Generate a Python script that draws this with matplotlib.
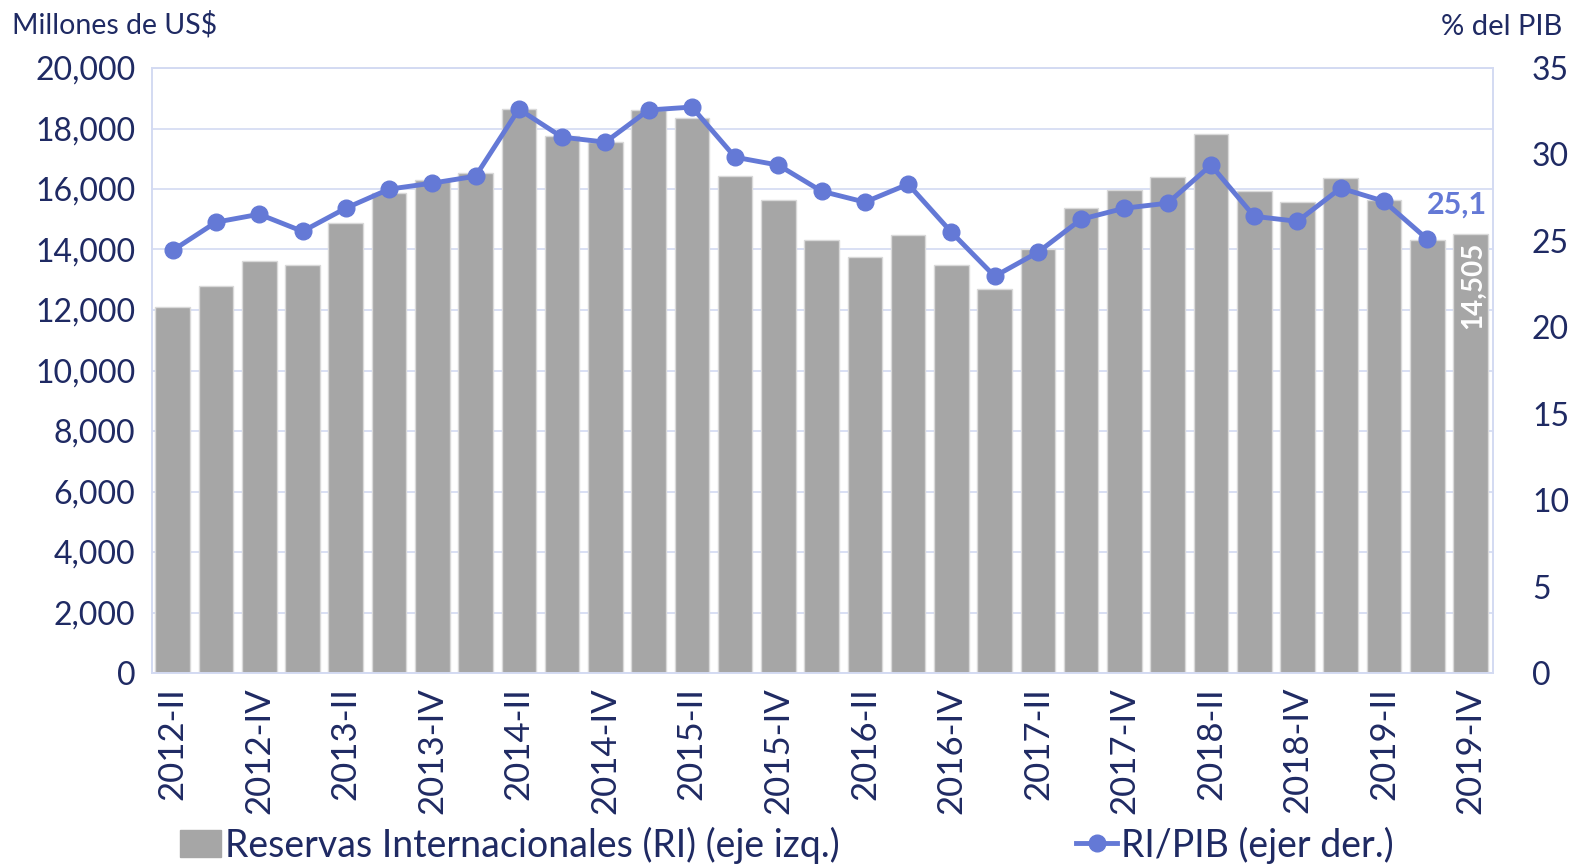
import matplotlib
matplotlib.use("Agg")
import matplotlib.pyplot as plt
from matplotlib.lines import Line2D
from matplotlib.patches import Patch

plt.rcParams['font.family'] = ['Lato', 'DejaVu Sans']

quarters = ["2012-II", "2012-III", "2012-IV",
            "2013-I", "2013-II", "2013-III", "2013-IV",
            "2014-I", "2014-II", "2014-III", "2014-IV",
            "2015-I", "2015-II", "2015-III", "2015-IV",
            "2016-I", "2016-II", "2016-III", "2016-IV",
            "2017-I", "2017-II", "2017-III", "2017-IV",
            "2018-I", "2018-II", "2018-III", "2018-IV",
            "2019-I", "2019-II", "2019-III", "2019-IV"]

reservas = [12090, 12780, 13610, 13480, 14870, 15860, 16290, 16520,
            18640, 17750, 17550, 18610, 18340, 16420, 15630, 14300,
            13740, 14470, 13480, 12680, 14000, 15360, 15960, 16390,
            17810, 15930, 15560, 16360, 15630, 14300, 14505]

ri_pib = [24.45, 26.08, 26.54, 25.55, 26.89, 27.99, 28.34, 28.74,
          32.62, 31.00, 30.71, 32.57, 32.74, 29.84, 29.38, 27.87,
          27.24, 28.28, 25.50, 22.95, 24.34, 26.25, 26.89, 27.18,
          29.38, 26.42, 26.13, 28.05, 27.29, 25.10]

left_ticks = [0, 2000, 4000, 6000, 8000, 10000, 12000, 14000, 16000, 18000, 20000]
right_ticks = [0, 5, 10, 15, 20, 25, 30, 35]

navy = "#1F2A63"
line_c = "#6479D6"
bar_c = "#A6A6A6"
grid_c = "#D3DAF2"

fig = plt.figure(figsize=(15.74, 8.67), dpi=100)
ax = fig.add_axes([152/1574, 1 - 673/867, (1493-152)/1574, (673-68)/867])
ax2 = ax.twinx()

x = list(range(len(quarters)))
bars = ax.bar(x, reservas, width=0.8, color=bar_c, edgecolor="#D9D9D9", linewidth=1.0, zorder=2)
ax.set_ylim(0, 20000)
ax.set_xlim(-0.48, len(quarters) - 0.48)
ax.set_yticks(left_ticks)
ax.set_yticklabels([f"{v:,}" for v in left_ticks])
ax.grid(axis='y', color=grid_c, linewidth=1.2, zorder=0)
ax.set_axisbelow(True)

xt = x[::2]
ax.set_xticks(xt)
ax.set_xticklabels(quarters[::2], rotation=90, va='top', ha='center')
ax.tick_params(axis='x', length=0, pad=10, labelsize=25, labelcolor=navy)
ax.tick_params(axis='y', length=0, pad=12, labelsize=23, labelcolor=navy)

for s in ax.spines.values():
    s.set_color(grid_c)
    s.set_linewidth(1.2)
for s in ax2.spines.values():
    s.set_color(grid_c)
    s.set_linewidth(1.2)

ax2.plot(x[:len(ri_pib)], ri_pib, color=line_c, linewidth=3.5, marker='o',
         markersize=12, zorder=5)
ax2.set_ylim(0, 35)
ax2.set_yticks(right_ticks)
ax2.tick_params(axis='y', length=0, pad=28, labelsize=23, labelcolor=navy)

# annotations
ax2.text(len(ri_pib) - 1 + 0.0, ri_pib[-1] + 1.2, "25,1", color=line_c,
         fontsize=22, fontweight='bold', ha='left', va='bottom')
ax.text(x[-1] + 0.05, reservas[-1] - 250, f"{reservas[-1]:,}", color="white",
        fontsize=20, fontweight='bold', rotation=90, ha='center', va='top')

fig.text(12/1574, 1 - 25/867, "Millones de US$", fontsize=20.5, color=navy,
         ha='left', va='center')
fig.text(1562/1574, 1 - 27/867, "% del PIB", fontsize=21, color=navy,
         ha='right', va='center')

handles = [Patch(facecolor=bar_c, edgecolor=bar_c),
           Line2D([0], [0], color=line_c, linewidth=3.5, marker='o', markersize=12)]
labels = ["Reservas Internacionales (RI) (eje izq.)", "RI/PIB (ejer der.)"]
fig.legend(handles, labels, loc='center', bbox_to_anchor=(0.5, 1 - 845/867),
           ncol=2, frameon=False, fontsize=27, labelcolor=navy,
           columnspacing=6.3, handlelength=1.1, handletextpad=0.1)

fig.savefig("out.png", dpi=100)
